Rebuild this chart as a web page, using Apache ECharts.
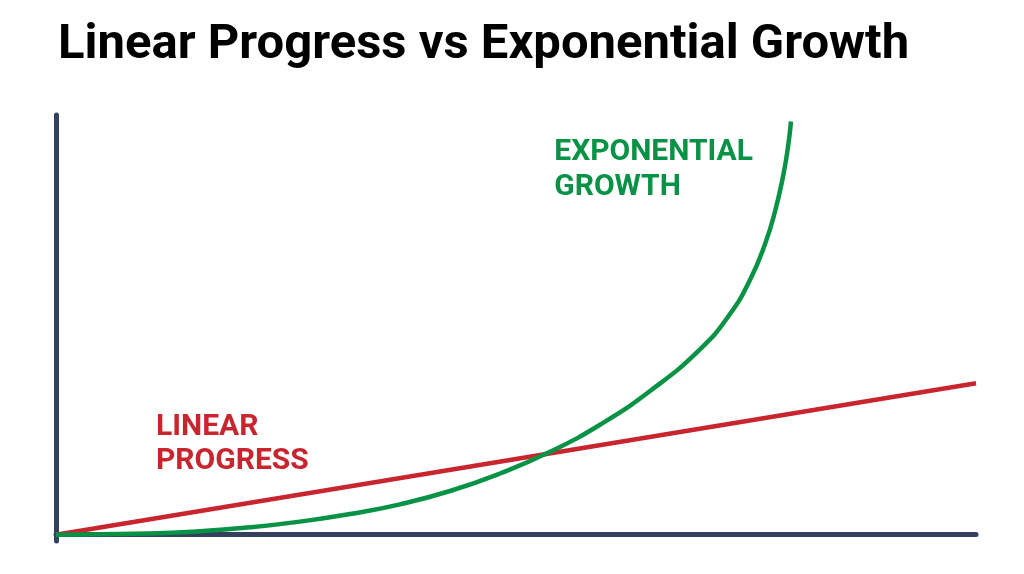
<!DOCTYPE html>
<html>
<head>
<meta charset="utf-8">
<script src="https://cdn.jsdelivr.net/npm/echarts@6/dist/echarts.min.js"></script>
<style>
html,body{margin:0;padding:0;background:#fff;}
#chart{width:1024px;height:574px;}
</style>
</head>
<body>
<div id="chart"></div>
<script>
var titleText = 'Linear Progress vs Exponential Growth';
var linearLabel = 'LINEAR\nPROGRESS';
var expLabel = 'EXPONENTIAL\nGROWTH';

// x (time) and y (progress) values
var linearX = [0, 100];
var linearY = [0, 36.1];

var expX = [0, 10.2, 15.65, 21.09, 26.52, 31.96, 37.39, 42.83, 48.26, 53.70, 59.13, 64.57, 70.00, 73.26, 75.43, 77.07, 78.15, 79.02, 79.57, 79.89];
var expY = [0, 0.29, 0.83, 1.76, 3.12, 4.93, 7.24, 10.41, 14.58, 19.75, 26.19, 34.24, 44.17, 52.59, 60.69, 69.26, 77.01, 85.30, 92.45, 98.45];

function pairs(xs, ys) { return xs.map(function (x, i) { return [x, ys[i]]; }); }

var chart = echarts.init(document.getElementById('chart'), null, {renderer: 'canvas'});
var axisColor = '#34405e';
var font = 'Roboto, "Noto Sans", sans-serif';

chart.setOption({
  animation: false,
  backgroundColor: '#ffffff',
  title: {
    text: titleText,
    left: 53, top: 16,
    textStyle: {fontFamily: font, fontWeight: 'bold', fontSize: 49, color: '#000000'}
  },
  grid: {left: 56, right: 48, top: 115, bottom: 33},
  xAxis: {
    type: 'value', min: 0, max: 100,
    axisLine: {show: true, onZero: true, lineStyle: {color: axisColor, width: 5}},
    axisTick: {show: false}, axisLabel: {show: false}, splitLine: {show: false}
  },
  yAxis: {
    type: 'value', min: -1.5, max: 100,
    axisLine: {show: true, lineStyle: {color: axisColor, width: 5}},
    axisTick: {show: false}, axisLabel: {show: false}, splitLine: {show: false}
  },
  series: [
    {
      name: 'Linear Progress', type: 'line', data: pairs(linearX, linearY),
      showSymbol: false, symbol: 'none',
      lineStyle: {color: '#c9252f', width: 4.5}
    },
    {
      name: 'Exponential Growth', type: 'line', data: pairs(expX, expY),
      smooth: 0.5, showSymbol: false, symbol: 'none',
      lineStyle: {color: '#079245', width: 4.5}
    }
  ],
  graphic: [
    {type: 'text', left: 156, top: 410,
      style: {text: linearLabel, fontFamily: font, fontWeight: 'bold', fontSize: 30, lineHeight: 34, fill: '#c9252f'}},
    {type: 'text', right: 271, top: 135,
      style: {text: expLabel, align: 'right', fontFamily: font, fontWeight: 'bold', fontSize: 30, lineHeight: 35, fill: '#079245'}}
  ]
});
</script>
</body>
</html>
